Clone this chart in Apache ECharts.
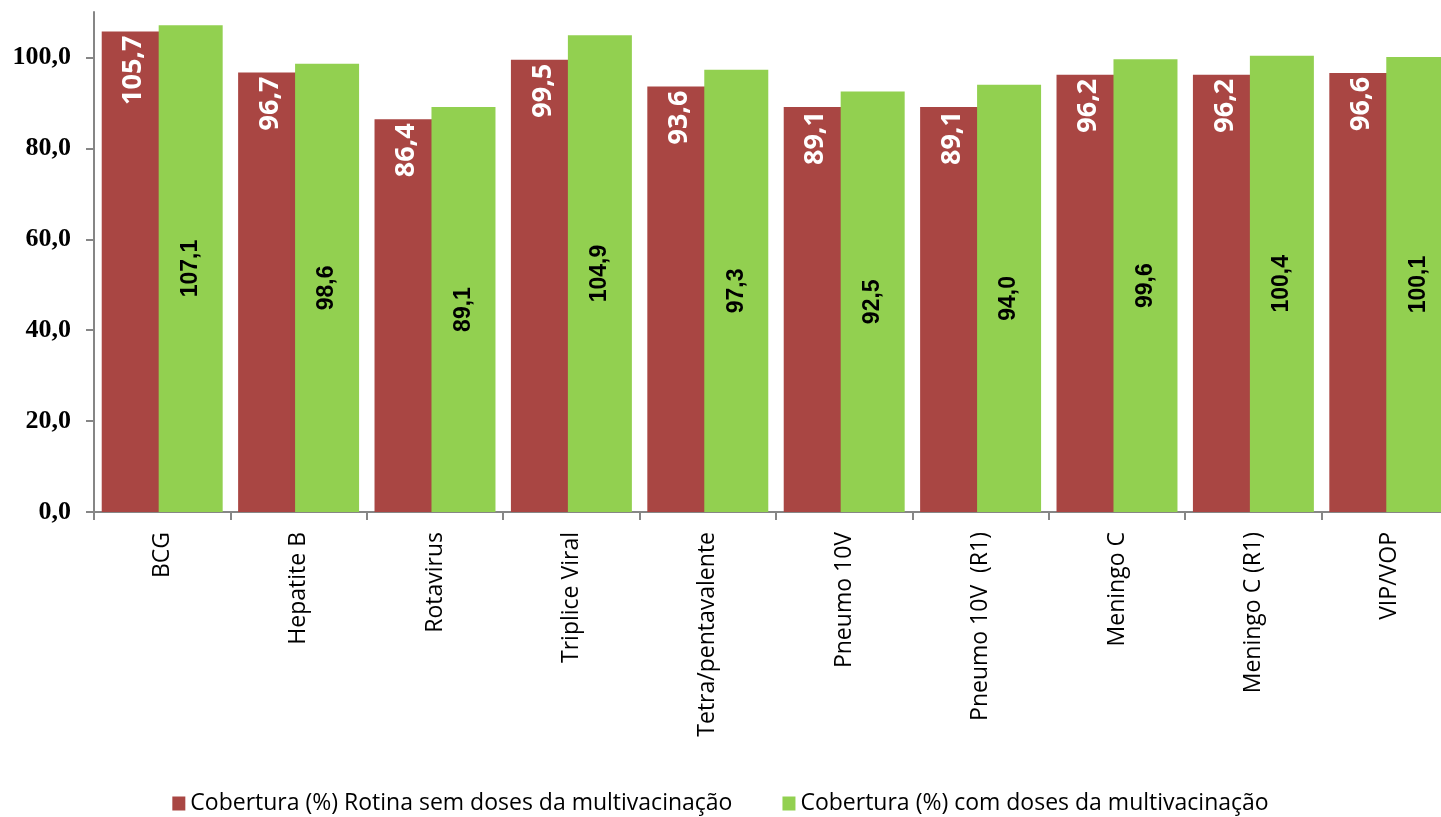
<!DOCTYPE html>
<html>
<head>
<meta charset="utf-8">
<script src="https://cdn.jsdelivr.net/npm/echarts@6/dist/echarts.min.js"></script>
<style>
	html, body { margin: 0; padding: 0; background: #fff; }
	#box { width: 1441px; height: 817px; }
</style>
</head>
<body>
<div id="box"></div>
<script>
	// categorias (vacinas)
	var categorias = ['BCG', 'Hepatite B', 'Rotavirus', 'Triplice Viral', 'Tetra/pentavalente',
		'Pneumo 10V', 'Pneumo 10V  (R1)', 'Meningo C', 'Meningo C (R1)', 'VIP/VOP'];
	// cobertura rotina sem multivacinação
	var semMulti = [105.7, 96.7, 86.4, 99.5, 93.6, 89.1, 89.1, 96.2, 96.2, 96.6];
	// cobertura com doses da multivacinação
	var comMulti = [107.1, 98.6, 89.1, 104.9, 97.3, 92.5, 94.0, 99.6, 100.4, 100.1];
	// marcas do eixo Y
	var yTicks = [0, 20, 40, 60, 80, 100];

	var nomeSem = 'Cobertura (%) Rotina sem doses da multivacinação';
	var nomeCom = 'Cobertura (%) com doses da multivacinação';

	function fmt(v) {
		return v.toFixed(1).replace('.', ',');
	}

	var myChart = echarts.init(document.getElementById('box'));

	var option = {
		animation: false,
		color: ['#A94643', '#92D050'],
		grid: {
			left: 94,
			top: 12,
			right: -17,
			bottom: 305,
			outerBoundsMode: 'none'
		},
		legend: {
			bottom: -3,
			left: 'center',
			itemWidth: 13,
			itemHeight: 14,
			itemGap: 50,
			icon: 'rect',
			textStyle: {
				fontFamily: 'Open Sans',
				fontSize: 23,
				color: '#000'
			},
			data: [nomeSem, nomeCom]
		},
		xAxis: {
			type: 'category',
			data: categorias,
			axisLine: { lineStyle: { color: '#868686', width: 2 } },
			axisTick: { show: true, length: 8, lineStyle: { color: '#868686', width: 2 } },
			axisLabel: {
				rotate: 90,
				interval: 0,
				margin: 20,
				fontFamily: 'Open Sans',
				fontSize: 23,
				color: '#000'
			}
		},
		yAxis: {
			type: 'value',
			min: 0,
			max: 110,
			interval: 20,
			splitLine: { show: false },
			axisLine: { show: true, lineStyle: { color: '#868686', width: 2 } },
			axisTick: { show: true, length: 8, customValues: yTicks, lineStyle: { color: '#868686', width: 2 } },
			axisLabel: {
				customValues: yTicks,
				margin: 23,
				fontFamily: 'Liberation Serif',
				fontWeight: 'bold',
				fontSize: 26,
				color: '#000',
				formatter: function (v) { return fmt(v); }
			}
		},
		series: [{
				name: nomeSem,
				type: 'bar',
				barWidth: 64,
				barGap: '-11%',
				data: semMulti,
				label: {
					show: true,
					position: 'insideTop',
					distance: 4,
					rotate: 90,
					align: 'right',
					verticalAlign: 'middle',
					fontFamily: 'Open Sans',
					fontWeight: 'bold',
					fontSize: 27,
					color: '#fff',
					formatter: function (p) { return fmt(p.value); }
				}
			},
			{
				name: nomeCom,
				type: 'bar',
				barWidth: 64,
				data: comMulti,
				label: {
					show: true,
					position: 'inside',
					rotate: 90,
					align: 'center',
					verticalAlign: 'middle',
					fontFamily: 'Liberation Sans',
					fontWeight: 'bold',
					fontSize: 23,
					color: '#000',
					formatter: function (p) { return fmt(p.value); }
				}
			}
		]
	};

	myChart.setOption(option);
</script>
</body>
</html>
